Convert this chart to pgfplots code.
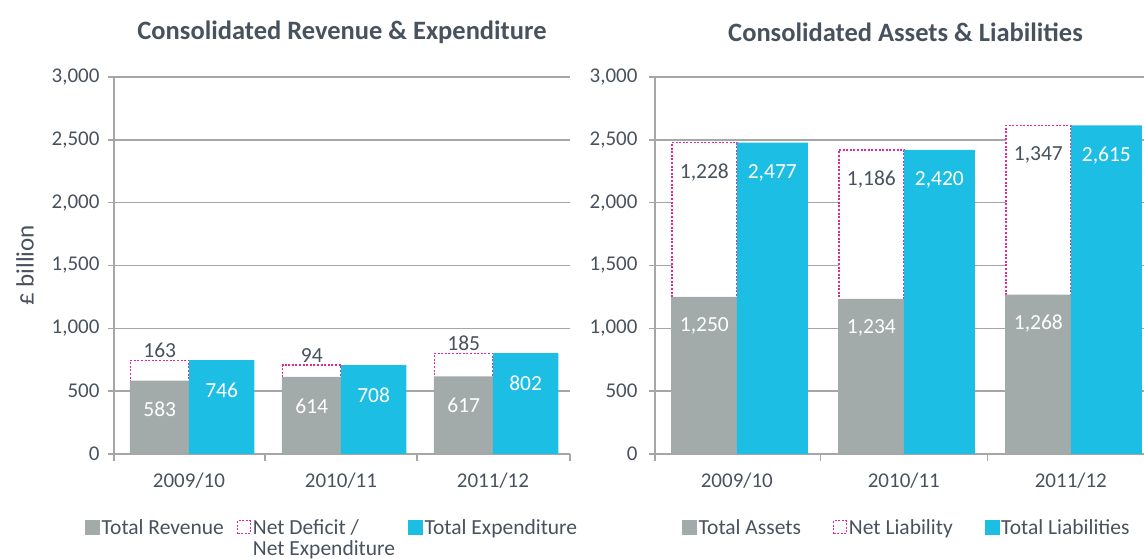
\documentclass[border=0pt]{standalone}
\usepackage{pgfplots}
\pgfplotsset{compat=1.18}
\usepackage{fontspec}
\setmainfont{Carlito}
\definecolor{txt}{RGB}{72,82,94}
\definecolor{barg}{RGB}{163,170,170}
\definecolor{barc}{RGB}{29,190,227}
\definecolor{pinkd}{RGB}{230,40,140}
\definecolor{gridc}{RGB}{166,166,166}
\newcommand{\fs}{\fontsize{21}{24}\selectfont}
\newcommand{\fl}{\fontsize{21.5}{24}\selectfont}
\pgfplotsset{
  base/.style={
    scale only axis, height=377pt, anchor=south west,
    ymin=0, ymax=3000,
    font=\fs,
    /pgf/number format/.cd, 1000 sep={,}, fixed, precision=0, assume math mode=true, /pgfplots/.cd,
    axis x line*=bottom, axis y line*=left,
    axis line style={gridc, line width=1.4pt, -},
    ymajorgrids, grid style={gridc, line width=1.4pt},
    ytick={0,500,...,3000},
    tick align=outside, major tick length=6pt,
    ytick style={gridc, line width=1.4pt},
    xtick={0,1,2}, xticklabels={2009/10,2010/11,2011/12},
    major x tick style={draw=none},
    minor x tick style={gridc, line width=1.4pt},
    minor tick length=7pt,
    tick label style={text=txt, font=\fs},
    xticklabel style={yshift=-9pt},
    yticklabel style={xshift=-5pt},
    title style={at={(axis description cs:0.5,1)}, anchor=center, yshift=39pt,
      font=\bfseries\fontsize{26.5}{30}\selectfont, text=txt},
    legend cell align=left,
    ybar,
  },
  limg/.style={legend image code/.code={\fill[#1] (0pt,-7pt) rectangle (14pt,7pt);}},
  limgd/.style={legend image code/.code={\draw[pinkd, line width=1.2pt, dash pattern=on 2pt off 1.5pt] (0.6pt,-6.4pt) rectangle (13.4pt,6.4pt);}},
  boxbar/.style={forget plot, fill=white, draw=pinkd, line width=1.4pt, dash pattern=on 2pt off 1.6pt},
  lbl/.style={every node near coord/.append style={text=#1, anchor=center, font=\fl}},
}
\begin{document}
\begin{tikzpicture}
%% ---------- LEFT CHART ----------
\begin{axis}[base, width=456pt, xmin=-0.493, xmax=2.507, at={(114pt,105pt)},
  minor xtick={-0.493,0.5,1.5,2.507},
  title={Consolidated Revenue \& Expenditure},
  ylabel={£ billion},
  ylabel style={at={(axis description cs:-0.195,0.5)}, anchor=center, font=\fontsize{25}{30}\selectfont, text=txt},
  legend style={at={(axis description cs:-0.0636,-0.194)}, anchor=west, draw=none, fill=none,
    legend columns=3, inner sep=0pt, font=\fl,
    /tikz/every even column/.append style={column sep=11pt},
    nodes={text height=15pt, text depth=1pt, inner sep=2pt, text=txt}},
]
\addlegendimage{limg=barg}
\addlegendentry{Total Revenue}
\addlegendimage{limgd}
\addlegendentry{\rlap{Net Deficit /}\raisebox{-21pt}[0pt][0pt]{Net Expenditure}}
\addlegendimage{limg=barc}
\addlegendentry{Total Expenditure}
% net deficit box: height = total expenditure, label = net deficit
\addplot[boxbar, bar width=0.384, bar shift=-0.192,
  nodes near coords, point meta=explicit, lbl=txt,
  every node near coord/.append style={yshift=10pt}]
  coordinates {(0,746)[163] (1,708)[94] (2,802)[185]};
\addplot[forget plot, fill=barg, draw=none, bar width=0.392, bar shift=-0.192,
  nodes near coords, lbl=white,
  every node near coord/.append style={yshift=-29pt}]
  coordinates {(0,583) (1,614) (2,617)};
\addplot[forget plot, fill=barc, draw=none, bar width=0.43, bar shift=0.215,
  nodes near coords, lbl=white,
  every node near coord/.append style={yshift=-30pt}]
  coordinates {(0,746) (1,708) (2,802)};
\end{axis}
%% ---------- RIGHT CHART ----------
\begin{axis}[base, width=501pt, xmin=-0.49, xmax=2.51, at={(655pt,105pt)},
  minor xtick={-0.49,0.5,1.5,2.51},
  yticklabel style={xshift=-3pt},
  title={Consolidated Assets \& Liabilities},
  legend style={at={(axis description cs:0.0539,-0.194)}, anchor=west, draw=none, fill=none,
    legend columns=3, inner sep=0pt, font=\fl,
    /tikz/every even column/.append style={column sep=30pt},
    nodes={text height=15pt, text depth=1pt, inner sep=2pt, text=txt}},
]
\addlegendimage{limg=barg}
\addlegendentry{Total Assets}
\addlegendimage{limgd}
\addlegendentry{Net Liability}
\addlegendimage{limg=barc}
\addlegendentry{Total Liabilities}
% net liability box: height = total liabilities, label = net liability
\addplot[boxbar, bar width=0.389, bar shift=-0.1945,
  nodes near coords, point meta=explicit, lbl=txt,
  every node near coord/.append style={yshift=-30pt}]
  coordinates {(0,2478)[1228] (1,2420)[1186] (2,2615)[1347]};
\addplot[forget plot, fill=barg, draw=none, bar width=0.397, bar shift=-0.1945,
  nodes near coords, lbl=white,
  every node near coord/.append style={yshift=-29pt}]
  coordinates {(0,1250) (1,1234) (2,1268)};
\addplot[forget plot, fill=barc, draw=none, bar width=0.425, bar shift=0.2125,
  nodes near coords, lbl=white,
  every node near coord/.append style={yshift=-30pt}]
  coordinates {(0,2477) (1,2420) (2,2615)};
\end{axis}
\pgfresetboundingbox
\path[use as bounding box] (0,0) rectangle (1144pt,559pt);
\end{tikzpicture}
\end{document}
